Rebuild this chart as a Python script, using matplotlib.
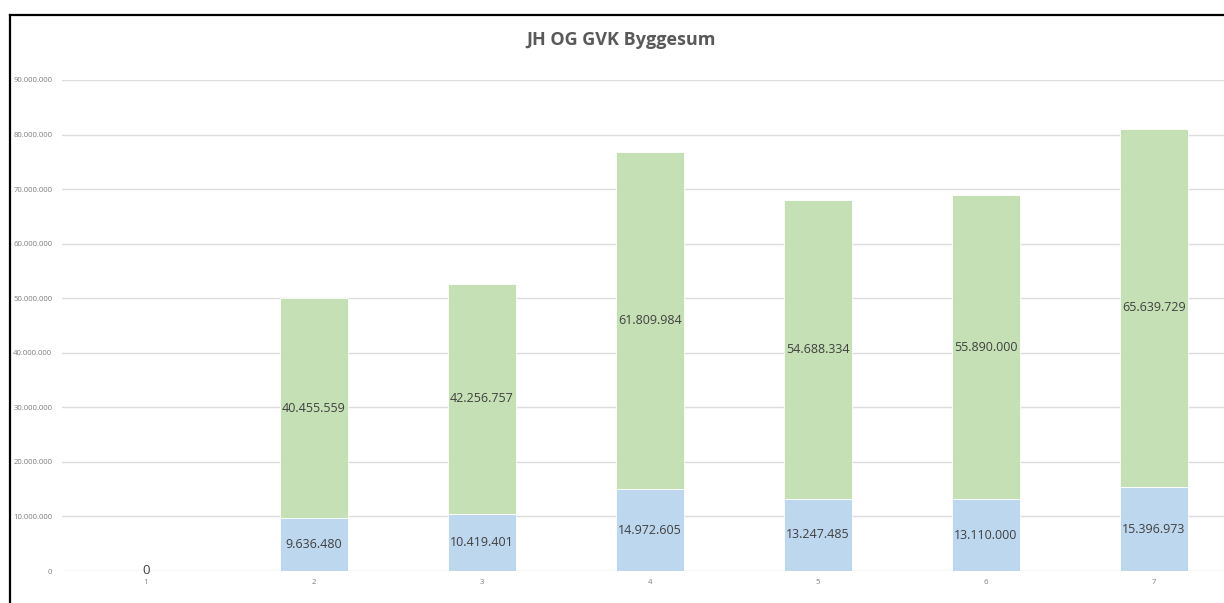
import matplotlib.pyplot as plt
from matplotlib.lines import Line2D
from matplotlib.ticker import FuncFormatter

# data
categories = ["1", "2", "3", "4", "5", "6", "7"]
jh_values = [0, 9636480, 10419401, 14972605, 13247485, 13110000, 15396973]
gvk_values = [0, 40455559, 42256757, 61809984, 54688334, 55890000, 65639729]
title = "JH OG GVK Byggesum"

blue = "#BDD7EE"
green = "#C5E0B4"
label_color = "#404040"
tick_color = "#7F7F7F"


def dots(v, pos=None):
    return f"{int(v):,}".replace(",", ".")


plt.rcParams['font.family'] = ['Open Sans', 'DejaVu Sans']

fig = plt.figure(figsize=(12.24, 6.03), dpi=100)
W, H = 1224, 603
ax = fig.add_axes([62 / W, (H - 571) / H, (1238 - 62) / W, (571 - 80) / H])

x = list(range(1, len(categories) + 1))
ax.bar(x, jh_values, width=0.4, color=blue, edgecolor="white", linewidth=0.6)
ax.bar(x, gvk_values, width=0.4, bottom=jh_values, color=green,
       edgecolor="white", linewidth=0.6)

# labels in the middle of each segment
for xi, lo, hi in zip(x, jh_values, gvk_values):
    if lo == 0 and hi == 0:
        ax.text(xi, 0, "0", ha="center", va="center", fontsize=9.5,
                color=label_color)
        continue
    ax.text(xi, lo / 2, dots(lo), ha="center", va="center", fontsize=9,
            color=label_color)
    ax.text(xi, lo + hi / 2, dots(hi), ha="center", va="center", fontsize=9,
            color=label_color)

# axes
ax.set_xlim(0.5, 7.5)
ax.set_ylim(0, 90000000)
ax.set_yticks(range(0, 90000001, 10000000))
ax.yaxis.set_major_formatter(FuncFormatter(dots))
ax.set_xticks(x)
ax.set_xticklabels(categories)
ax.tick_params(axis="both", length=0, labelsize=5.6, labelcolor=tick_color)
ax.tick_params(axis="y", pad=7)
ax.tick_params(axis="x", pad=6)
ax.grid(axis="y", color="#DDDDDD", linewidth=1)
ax.set_axisbelow(True)
for s in ax.spines.values():
    s.set_visible(False)

fig.text(621 / W, 1 - 40 / H, title, ha="center", va="center",
         fontsize=13, fontweight="bold", color="#595959")

# chart border (top and left only visible)
fig.add_artist(Line2D([10 / W, 1], [1 - 15 / H, 1 - 15 / H],
                      transform=fig.transFigure, color="black", linewidth=1.6))
fig.add_artist(Line2D([10 / W, 10 / W], [0, 1 - 15 / H],
                      transform=fig.transFigure, color="black", linewidth=1.6))

plt.savefig("out.png", dpi=100)
